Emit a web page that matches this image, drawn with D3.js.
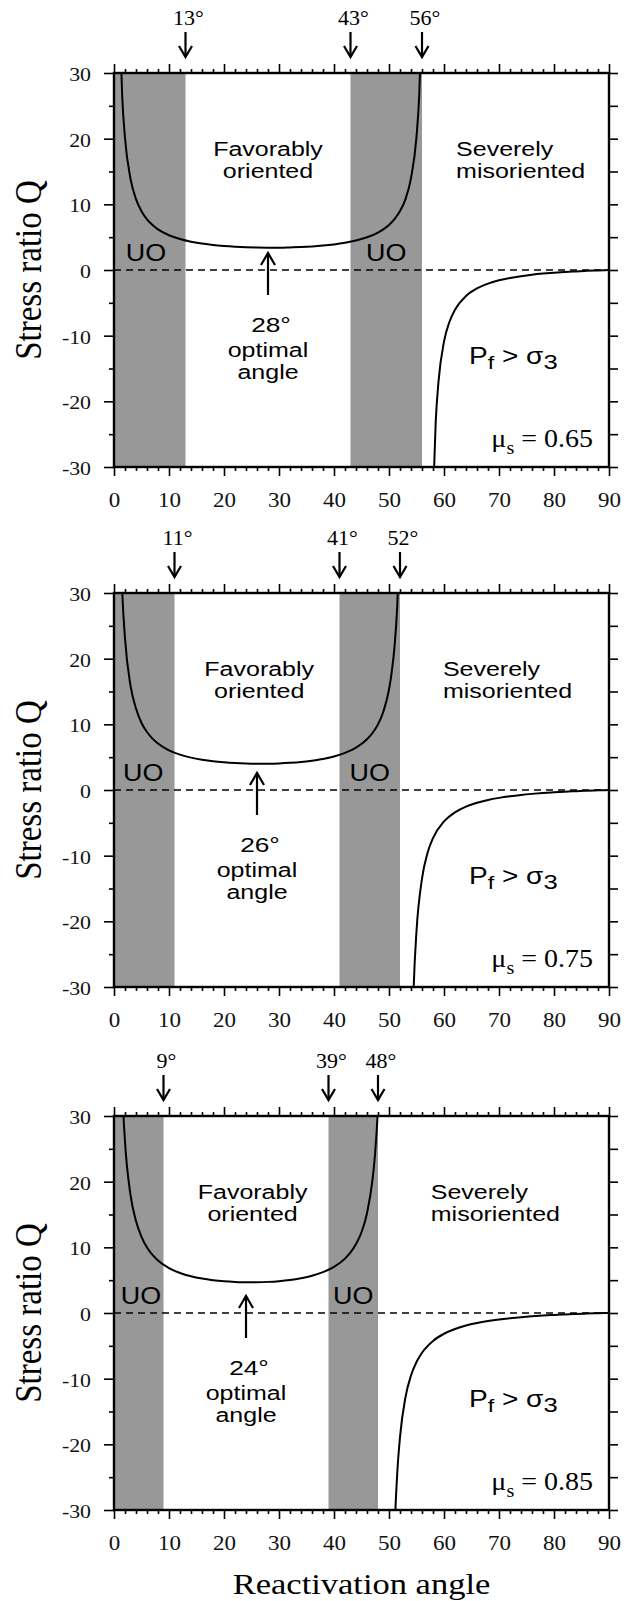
<!DOCTYPE html>
<meta charset="utf-8">
<style>
  body { margin: 0; background: #fff; }
  .sans { font-family: "Liberation Sans", Arial, sans-serif; }
  .serif { font-family: "Liberation Serif", "Times New Roman", serif; }
</style>
<body>
<svg id="chart" width="632" height="1601"></svg>
<script src="https://cdn.jsdelivr.net/npm/d3@7"></script>
<script>
// ---- data ----
const muValues = [0.65, 0.75, 0.85];
const optimalAngles = [28, 26, 24];
const leftBandEdge = [13, 11, 9];
const rightBands = [[43, 56], [41, 52], [39, 48]];
const xTickValues = [0, 10, 20, 30, 40, 50, 60, 70, 80, 90];
const yTickValues = [-30, -20, -10, 0, 10, 20, 30];

// U-shaped branch (angle, Q)
const favorable065 = [[1,38.7],[1.5,26.3],[2,20.1],[3,13.9],[4,10.8],[5,8.94],[6,7.71],[7,6.84],[8,6.19],[10,5.29],[12,4.71],[14,4.30],[16,4.02],[18,3.80],[20,3.65],[22,3.54],[24,3.46],[26,3.42],[28,3.40],[30,3.40],[32,3.44],[34,3.50],[36,3.59],[38,3.72],[40,3.90],[42,4.15],[44,4.49],[46,4.98],[48,5.70],[50,6.86],[51,7.74],[52,8.97],[53,10.8],[54,14.0],[55,20.3],[55.5,26.7],[56,39.6]];
const favorable075 = [[1,44.6],[1.5,30.2],[2,23.1],[3,15.9],[4,12.4],[5,10.2],[6,8.83],[7,7.83],[8,7.08],[10,6.05],[12,5.39],[14,4.93],[16,4.61],[18,4.37],[20,4.21],[22,4.10],[24,4.03],[26,4.00],[28,4.01],[30,4.05],[32,4.14],[34,4.27],[36,4.47],[38,4.73],[40,5.11],[42,5.65],[44,6.44],[46,7.72],[47,8.68],[48,10.0],[49,12.0],[50,15.3],[50.5,18.0],[51,21.8],[51.5,28.0],[52,39.6]];
const favorable085 = [[1,50.5],[1.5,34.2],[2,26.1],[3,18.0],[4,14.0],[5,11.6],[6,9.98],[7,8.85],[8,8.00],[10,6.85],[12,6.10],[14,5.59],[16,5.24],[18,5.00],[20,4.83],[22,4.73],[24,4.68],[26,4.69],[28,4.74],[30,4.85],[32,5.03],[34,5.30],[36,5.67],[38,6.22],[40,7.02],[42,8.28],[43,9.22],[44,10.5],[45,12.3],[46,15.2],[47,20.3],[47.5,24.6],[48,31.5],[48.5,44.6]];

// branch beyond lock-up (Pf > sigma3)
const misoriented065 = [[58,-35.0],[58.5,-23.0],[59,-17.0],[60,-10.9],[61,-7.88],[62,-6.05],[64,-3.96],[66,-2.80],[68,-2.07],[70,-1.57],[72,-1.21],[74,-0.94],[76,-0.72],[78,-0.55],[80,-0.41],[82,-0.30],[84,-0.21],[86,-0.13],[88,-0.06],[90,0]];
const misoriented075 = [[54,-47.8],[54.5,-29.8],[55,-21.5],[56,-13.5],[57,-9.60],[58,-7.33],[60,-4.79],[62,-3.41],[64,-2.54],[66,-1.95],[68,-1.52],[70,-1.20],[72,-0.95],[74,-0.75],[76,-0.59],[78,-0.46],[80,-0.35],[82,-0.25],[84,-0.18],[86,-0.11],[88,-0.05],[90,0]];
const misoriented085 = [[50.5,-54.6],[51,-34.0],[51.5,-24.4],[52,-18.9],[53,-12.8],[54,-9.52],[55,-7.46],[56,-6.05],[58,-4.25],[60,-3.16],[62,-2.43],[64,-1.90],[66,-1.52],[68,-1.22],[70,-0.98],[72,-0.79],[74,-0.63],[76,-0.50],[78,-0.39],[80,-0.30],[82,-0.22],[84,-0.15],[86,-0.09],[88,-0.04],[90,0]];

const favorableCurves = [favorable065, favorable075, favorable085];
const misorientedCurves = [misoriented065, misoriented075, misoriented085];

// ---- layout ----
const panelTops = [73, 593, 1116];
const panelH = 394;
const favLabelAngle = [28, 26.4, 25.2];
const sevLabelAngle = [62.2, 59.8, 57.6];
const uoLeftAngle = [5.8, 5.3, 4.9];
const SERIF = '"Liberation Serif", "Times New Roman", serif';

const svg = d3.select("#chart");
svg.append("rect").attr("width", 632).attr("height", 1601).attr("fill", "#fff");

const x = d3.scaleLinear().domain([0, 90]).range([114, 609]);

function label(g, px, py, str, cls, size, anchor, sx) {
  return g.append("text")
    .attr("class", cls)
    .attr("font-size", size)
    .attr("text-anchor", anchor)
    .attr("transform", "translate(" + px + "," + py + ") scale(" + sx + ",1)")
    .text(str);
}

function downArrow(g, px, tipY) {
  g.append("line").attr("x1", px).attr("x2", px).attr("y1", tipY - 25).attr("y2", tipY)
    .attr("stroke", "#000").attr("stroke-width", 2.2);
  g.append("polyline").attr("points", (px - 6.5) + "," + (tipY - 11) + " " + px + "," + tipY + " " + (px + 6.5) + "," + (tipY - 11))
    .attr("fill", "none").attr("stroke", "#000").attr("stroke-width", 2.2);
}

function upArrow(g, px, tipY) {
  g.append("line").attr("x1", px).attr("x2", px).attr("y1", tipY).attr("y2", tipY + 42)
    .attr("stroke", "#000").attr("stroke-width", 2.2);
  g.append("polyline").attr("points", (px - 7) + "," + (tipY + 12) + " " + px + "," + tipY + " " + (px + 7) + "," + (tipY + 12))
    .attr("fill", "none").attr("stroke", "#000").attr("stroke-width", 2.2);
}

muValues.forEach(function(mu, i) {
  const top = panelTops[i];
  const y = d3.scaleLinear().domain([-30, 30]).range([top + panelH, top]);
  const g = svg.append("g");

  g.append("clipPath").attr("id", "clip" + i)
    .append("rect").attr("x", x(0)).attr("y", top).attr("width", x(90) - x(0)).attr("height", panelH);

  // unfavourably oriented bands
  const bands = [[0, leftBandEdge[i]], rightBands[i]];
  g.selectAll(".band").data(bands).enter().append("rect")
    .attr("x", d => x(d[0])).attr("width", d => x(d[1]) - x(d[0]))
    .attr("y", top).attr("height", panelH)
    .attr("fill", "#989898");

  // zero line
  g.append("line").attr("x1", x(0)).attr("x2", x(90)).attr("y1", y(0)).attr("y2", y(0))
    .attr("stroke", "#000").attr("stroke-width", 1.6).attr("stroke-dasharray", "7,5");

  // curves
  const line = d3.line().x(d => x(d[0])).y(d => y(d[1])).curve(d3.curveMonotoneX);
  g.append("g").attr("clip-path", "url(#clip" + i + ")")
    .selectAll("path").data([favorableCurves[i], misorientedCurves[i]]).enter().append("path")
    .attr("d", line).attr("fill", "none").attr("stroke", "#000").attr("stroke-width", 2);

  // axes
  const bottom = g.append("g").attr("transform", "translate(0," + (top + panelH) + ")")
    .call(d3.axisBottom(x).tickValues(xTickValues).tickSize(9).tickPadding(17));
  bottom.attr("font-family", SERIF).attr("font-size", 20);
  bottom.selectAll("text").attr("transform", "scale(1.15,1)").attr("fill", "#111");
  g.append("g").attr("transform", "translate(0," + (top + panelH) + ")")
    .call(d3.axisBottom(x).tickValues(d3.range(0, 91, 2).filter(v => v % 10)).tickSize(4).tickFormat(""));

  g.append("g").attr("transform", "translate(0," + top + ")")
    .call(d3.axisTop(x).tickValues(xTickValues).tickSize(9).tickFormat(""));
  g.append("g").attr("transform", "translate(0," + top + ")")
    .call(d3.axisTop(x).tickValues(d3.range(0, 91, 2).filter(v => v % 10)).tickSize(4).tickFormat(""));

  const left = g.append("g").attr("transform", "translate(" + x(0) + ",0)")
    .call(d3.axisLeft(y).tickValues(yTickValues).tickSize(10).tickPadding(10).tickFormat(d => String(d)));
  left.attr("font-family", SERIF).attr("font-size", 19);
  left.selectAll("text").attr("transform", "scale(1.15,1)").attr("dy", "0.4em").attr("fill", "#111");
  g.append("g").attr("transform", "translate(" + x(0) + ",0)")
    .call(d3.axisLeft(y).tickValues([-25, -15, -5, 5, 15, 25]).tickSize(5).tickFormat(""));

  g.append("g").attr("transform", "translate(" + x(90) + ",0)")
    .call(d3.axisRight(y).tickValues(d3.range(-30, 31, 5)).tickSize(9).tickFormat(""));

  g.selectAll(".domain").remove();
  g.selectAll(".tick line").attr("stroke-width", 1.6);

  g.append("rect").attr("x", x(0)).attr("y", top).attr("width", x(90) - x(0)).attr("height", panelH)
    .attr("fill", "none").attr("stroke", "#000").attr("stroke-width", 2.4);

  // angle markers above the panel
  const marks = [leftBandEdge[i], rightBands[i][0], rightBands[i][1]];
  marks.forEach(function(a) {
    downArrow(g, x(a), top - 16);
    label(g, x(a) + 3, top - 48, a + "°", "serif", 20, "middle", 1.1);
  });

  // region labels
  label(g, x(favLabelAngle[i]), y(17.3), "Favorably", "sans", 20, "middle", 1.25);
  label(g, x(favLabelAngle[i]), y(14.0), "oriented", "sans", 20, "middle", 1.25);
  label(g, x(sevLabelAngle[i]), y(17.3), "Severely", "sans", 20, "start", 1.25);
  label(g, x(sevLabelAngle[i]), y(14.0), "misoriented", "sans", 20, "start", 1.25);
  label(g, x(uoLeftAngle[i]), y(1.4), "UO", "sans", 23, "middle", 1.17);
  label(g, x((rightBands[i][0] + rightBands[i][1]) / 2), y(1.4), "UO", "sans", 23, "middle", 1.17);

  // optimal angle
  const oa = optimalAngles[i];
  upArrow(g, x(oa), top + 180);
  label(g, x(oa) + 3, top + 259, oa + "°", "sans", 21, "middle", 1.25);
  label(g, x(oa), top + 284, "optimal", "sans", 20, "middle", 1.25);
  label(g, x(oa), top + 306, "angle", "sans", 20, "middle", 1.25);

  // Pf > sigma3
  const pf = g.append("text").attr("class", "sans").attr("font-size", 23)
    .attr("transform", "translate(469," + (top + 291) + ") scale(1.22,1)");
  pf.append("tspan").text("P");
  pf.append("tspan").attr("font-size", 19).attr("dy", 5).text("f");
  pf.append("tspan").attr("dy", -5).text(" > σ");
  pf.append("tspan").attr("font-size", 21).attr("dy", 5).text("3");

  // friction coefficient
  const mt = g.append("text").attr("class", "serif").attr("font-size", 25).attr("text-anchor", "end")
    .attr("transform", "translate(593," + (top + 374) + ") scale(1.12,1)");
  mt.append("tspan").text("μ");
  mt.append("tspan").attr("font-size", 18).attr("dy", 7).text("s");
  mt.append("tspan").attr("dy", -7).text(" = " + mu.toFixed(2));

  // y title
  g.append("text").attr("class", "serif").attr("font-size", 33).attr("text-anchor", "middle")
    .attr("transform", "translate(41," + (top + panelH / 2) + ") rotate(-90) scale(1,1.12)")
    .text("Stress ratio Q");
});

label(svg, (x(0) + x(90)) / 2, 1594, "Reactivation angle", "serif", 30, "middle", 1.15);
</script>
</body>
